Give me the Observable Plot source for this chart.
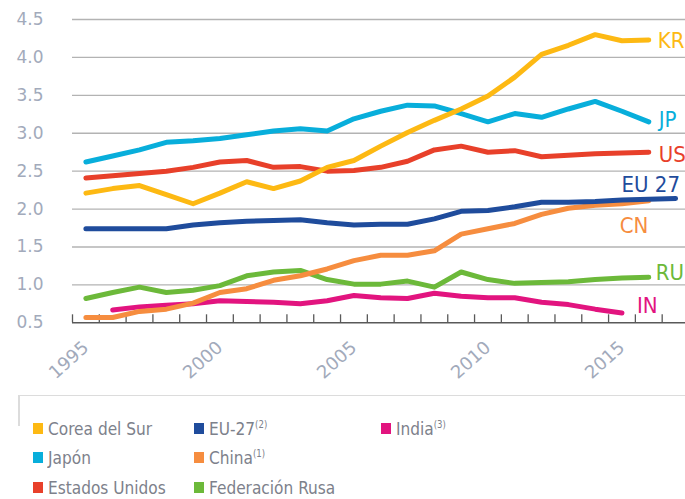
<!DOCTYPE html>
<html>
<head>
<meta charset="utf-8">
<script src="https://cdn.jsdelivr.net/npm/d3@7"></script>
<script src="https://cdn.jsdelivr.net/npm/@observablehq/plot@0.6"></script>
<style>
  html, body { margin: 0; padding: 0; background: #fff; }
  #wrap { position: relative; width: 685px; height: 499px; overflow: hidden; }
  #legend { position: absolute; left: 18px; top: 395px; width: 667px; height: 104px;
            border-top: 1.5px solid #dcdcdc; }
  #legend .edge { position: absolute; left: 0; top: 0; width: 1.5px; height: 30px; background: #dcdcdc; }
  .item { position: absolute; display: flex; align-items: center; height: 24px;
          font-family: "Liberation Sans Narrow", "Arial Narrow", "DejaVu Sans Condensed", sans-serif;
          font-size: 18px; color: #7d818b; white-space: nowrap; }
  .item .sw { width: 10px; height: 11px; margin-right: 5px; flex: none; }
  .item .tx { display: inline-block; transform: scaleX(0.95); transform-origin: left center; }
  .item sup { font-size: 10px; vertical-align: 0; position: relative; top: -7px; }
</style>
</head>
<body>
<div id="wrap"><div id="chart"></div><div id="legend"><div class="edge"></div></div></div>
<script>
const years = [1995,1996,1997,1998,1999,2000,2001,2002,2003,2004,2005,2006,2007,2008,2009,2010,2011,2012,2013,2014,2015,2016,2017];
const labelYears = [1995, 2000, 2005, 2010, 2015];
const yTicks = [0.5, 1.0, 1.5, 2.0, 2.5, 3.0, 3.5, 4.0, 4.5];

const seriesNames = ["Federación Rusa", "India", "China", "EU-27", "Estados Unidos", "Japón", "Corea del Sur"];
const seriesCodes = ["RU", "IN", "CN", "EU 27", "US", "JP", "KR"];
const seriesColors = ["#6cb93a", "#e2147f", "#f68d3f", "#1f4c9c", "#e8402a", "#08aedb", "#fdb913"];

const koreaSur = [2.21,2.27,2.31,2.19,2.07,2.21,2.36,2.27,2.37,2.55,2.64,2.83,3.01,3.17,3.32,3.49,3.74,4.04,4.16,4.30,4.22,4.23,null];
const japon    = [2.62,2.70,2.78,2.88,2.90,2.93,2.98,3.03,3.06,3.03,3.19,3.29,3.37,3.36,3.26,3.15,3.26,3.21,3.32,3.42,3.29,3.15,null];
const eeuu     = [2.41,2.44,2.47,2.50,2.55,2.62,2.64,2.55,2.56,2.50,2.51,2.55,2.63,2.78,2.83,2.75,2.77,2.69,2.71,2.73,2.74,2.75,null];
const eu27     = [1.74,1.74,1.74,1.74,1.79,1.82,1.84,1.85,1.86,1.82,1.79,1.80,1.80,1.87,1.97,1.98,2.03,2.09,2.09,2.10,2.12,2.13,2.14];
const china    = [0.57,0.57,0.65,0.68,0.76,0.90,0.95,1.06,1.12,1.21,1.32,1.39,1.39,1.45,1.67,1.74,1.81,1.93,2.01,2.05,2.07,2.11,null];
const rusia    = [0.82,0.90,0.97,0.90,0.93,0.99,1.12,1.17,1.19,1.07,1.01,1.01,1.05,0.97,1.17,1.07,1.02,1.03,1.04,1.07,1.09,1.10,null];
const india    = [null,0.67,0.71,0.73,0.75,0.79,0.78,0.77,0.75,0.79,0.86,0.83,0.82,0.89,0.85,0.83,0.83,0.77,0.74,0.68,0.63,null,null];

const valuesByName = {
  "Federación Rusa": rusia, "India": india, "China": china, "EU-27": eu27,
  "Estados Unidos": eeuu, "Japón": japon, "Corea del Sur": koreaSur
};

// label offsets relative to each series' last point (styling only)
const labelOffsets = {
  "RU": [7, -4], "IN": [15, -7], "CN": [-29, 25], "EU 27": [-54, -13],
  "US": [10, 3], "JP": [10, -2], "KR": [9, 1]
};

const rows = [];
seriesNames.forEach((name) => {
  valuesByName[name].forEach((v, i) => { if (v != null) rows.push({series: name, year: years[i], value: v}); });
});
const lastPoints = seriesNames.map((name, k) => {
  const pts = rows.filter(r => r.series === name);
  return {...pts[pts.length - 1], code: seriesCodes[k]};
});

const tickFont = "DejaVu Sans, sans-serif";
const labelFont = "'Liberation Sans Narrow', 'Arial Narrow', 'DejaVu Sans Condensed', sans-serif";

const marks = [
  Plot.gridY(yTicks.filter(d => d > 0.5), {stroke: "#b3b3b3", strokeOpacity: 1, strokeWidth: 1.3}),
  Plot.axisY(yTicks, {tickSize: 0, tickPadding: 29, fontSize: 17, fill: "#a2aabb", fontFamily: tickFont,
                      tickFormat: d => d.toFixed(1), label: null}),
  Plot.ruleY([0.5], {stroke: "#595959", strokeWidth: 1.6}),
  Plot.axisX(years.map(y => y - 0.5), {tickSize: 8, dy: -8, stroke: "#595959", strokeWidth: 1.3, text: null, label: null}),
  Plot.axisX(labelYears, {tickSize: 0, tickPadding: 22, tickRotate: -42, fontSize: 18, fill: "#a2aabb",
                          fontFamily: tickFont, tickFormat: d => String(d), label: null}),
  Plot.line(rows, {x: "year", y: "value", z: "series", stroke: "series", strokeWidth: 5,
                   strokeLinecap: "round", strokeLinejoin: "round"})
];
lastPoints.forEach((p, k) => {
  const [dx, dy] = labelOffsets[p.code];
  marks.push(Plot.text([p], {x: "year", y: "value", text: "code", dx, dy, textAnchor: "start",
    fill: seriesColors[k], fontSize: 22, fontFamily: labelFont}));
});

const chart = Plot.plot({
  width: 685, height: 385,
  marginLeft: 72, marginRight: 0, marginTop: 19, marginBottom: 62.7,
  style: {background: "#fff", overflow: "visible"},
  x: {domain: [1994.5, 2017.37], label: null},
  y: {domain: [0.5, 4.5], label: null},
  color: {domain: seriesNames, range: seriesColors},
  marks
});
document.getElementById("chart").appendChild(chart);

// legend
const legendItems = [
  {name: "Corea del Sur", sup: "", col: 0, row: 0},
  {name: "Japón", sup: "", col: 0, row: 1},
  {name: "Estados Unidos", sup: "", col: 0, row: 2},
  {name: "EU-27", sup: "(2)", col: 1, row: 0},
  {name: "China", sup: "(1)", col: 1, row: 1},
  {name: "Federación Rusa", sup: "", col: 1, row: 2},
  {name: "India", sup: "(3)", col: 2, row: 0}
];
const colX = [15, 176, 363];
const rowY = [32, 61, 91];
const legend = document.getElementById("legend");
legendItems.forEach(it => {
  const el = document.createElement("div");
  el.className = "item";
  el.style.left = colX[it.col] + "px";
  el.style.top = (rowY[it.row] - 12) + "px";
  const sw = document.createElement("span");
  sw.className = "sw";
  sw.style.background = seriesColors[seriesNames.indexOf(it.name)];
  el.appendChild(sw);
  const t = document.createElement("span");
  t.className = "tx";
  t.textContent = it.name;
  if (it.sup) { const s = document.createElement("sup"); s.textContent = it.sup; t.appendChild(s); }
  el.appendChild(t);
  legend.appendChild(el);
});
</script>
</body>
</html>
